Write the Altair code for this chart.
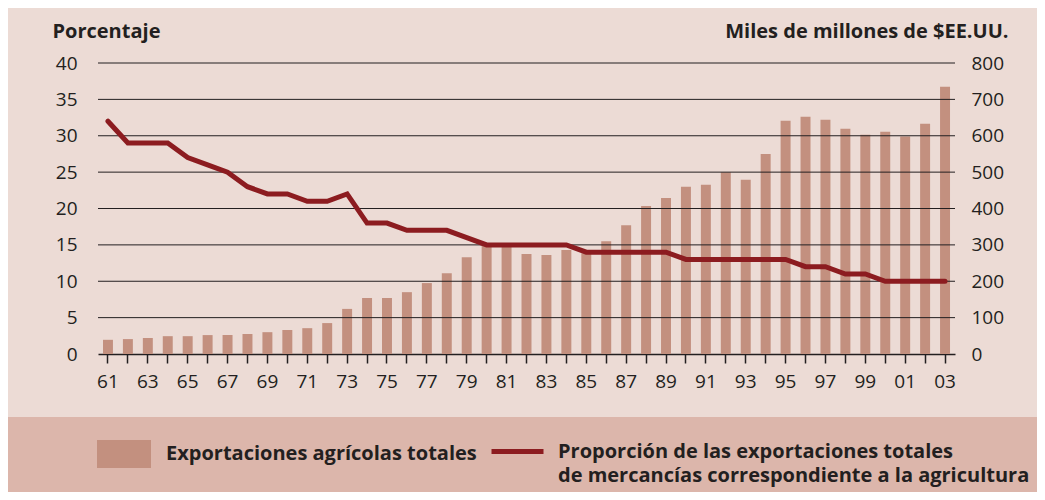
import altair as alt
import pandas as pd

# ---- data -------------------------------------------------------------
years = list(range(1961, 2004))
exports = [39, 41, 44, 49, 49, 52, 52, 55, 60, 66,
           71, 85, 124, 154, 154, 170, 195, 222, 266, 300,
           305, 275, 272, 286, 277, 310, 354, 407, 429, 460,
           465, 500, 479, 550, 641, 652, 644, 619, 603, 611,
           598, 633, 735]
share = [32, 29, 29, 29, 27, 26, 25, 23, 22, 22,
         21, 21, 22, 18, 18, 17, 17, 17, 16, 15,
         15, 15, 15, 15, 14, 14, 14, 14, 14, 13,
         13, 13, 13, 13, 13, 12, 12, 11, 11, 10,
         10, 10, 10]
grid_values = [5, 10, 15, 20, 25, 30, 35, 40]
left_ticks = [0, 5, 10, 15, 20, 25, 30, 35, 40]
right_ticks = [0, 100, 200, 300, 400, 500, 600, 700, 800]

bar_label = "Exportaciones agrícolas totales"
line_label_lines = ["Proporción de las exportaciones totales",
                    "de mercancías correspondiente a la agricultura"]
left_title = "Porcentaje"
right_title = "Miles de millones de $EE.UU."

# ---- style ------------------------------------------------------------
BG = "#ecdbd5"
BAND = "#dcb6ab"
BAR = "#c3907f"
LINE = "#8c1c20"
INK = "#231f20"
FONT = "Open Sans"

df = pd.DataFrame({"year": years, "exports": exports, "share": share})
df["bar_series"] = bar_label
df["line_series"] = "|".join(line_label_lines)

x_enc = alt.X(
    "year:O",
    scale=alt.Scale(paddingInner=0.5, paddingOuter=0.25),
    axis=alt.Axis(
        title=None, labelAngle=0,
        labelExpr="datum.value % 2 == 1 ? substring(toString(datum.value), 2) : ''",
        labelFont=FONT, labelFontSize=19, labelColor=INK, labelPadding=9,
        tickSize=9, tickColor=INK, tickWidth=1.5,
        domainColor=INK, domainWidth=1.5, grid=False,
    ),
)

left_axis = alt.Axis(
    orient="left", values=left_ticks, grid=False, domain=False, ticks=False,
    labelPadding=21, labelFont=FONT, labelFontSize=19, labelColor=INK,
    title=left_title, titleAngle=0, titleAlign="left", titleBaseline="alphabetic",
    titleX=-46, titleY=-26, titleFont=FONT, titleFontSize=20,
    titleFontWeight="bold", titleColor=INK,
)

right_axis = alt.Axis(
    orient="right", values=right_ticks, grid=False, domain=False, ticks=False,
    labelPadding=16, labelFont=FONT, labelFontSize=19, labelColor=INK,
    title=right_title, titleAngle=0, titleAlign="right", titleBaseline="alphabetic",
    titleX=53, titleY=-26, titleFont=FONT, titleFontSize=20,
    titleFontWeight="bold", titleColor=INK,
)

band = alt.Chart(pd.DataFrame({"k": [0]})).mark_rect(color=BAND).encode(
    x=alt.value(-90), x2=alt.value(939), y=alt.value(354), y2=alt.value(440)
)

bars = alt.Chart(df).mark_bar().encode(
    x=x_enc,
    y=alt.Y("exports:Q", scale=alt.Scale(domain=[0, 800], nice=False), axis=right_axis),
    fill=alt.Fill(
        "bar_series:N",
        scale=alt.Scale(domain=[bar_label], range=[BAR]),
        legend=alt.Legend(
            orient="none", legendX=-1, legendY=364, title=None, padding=0,
            symbolType="M-1,-0.52H1V0.52H-1Z", symbolSize=2916,
            symbolStrokeWidth=0, symbolOpacity=1,
            labelOffset=15, labelFont=FONT, labelFontSize=20,
            labelFontWeight="bold", labelColor=INK, labelLimit=1000,
        ),
    ),
)

grid = alt.Chart(pd.DataFrame({"g": grid_values})).mark_rule(
    color=INK, strokeWidth=1
).encode(y=alt.Y("g:Q", scale=alt.Scale(domain=[0, 40], nice=False), axis=left_axis))

line = alt.Chart(df).mark_line(strokeWidth=5, strokeCap="round", strokeJoin="miter").encode(
    x=x_enc,
    y=alt.Y("share:Q", scale=alt.Scale(domain=[0, 40], nice=False), axis=left_axis),
    stroke=alt.Stroke(
        "line_series:N",
        scale=alt.Scale(domain=["|".join(line_label_lines)], range=[LINE]),
        legend=alt.Legend(
            orient="none", legendX=391, legendY=360, title=None, padding=0,
            symbolType="stroke", symbolSize=2704,
            symbolStrokeWidth=5, symbolOpacity=1,
            labelOffset=12, labelFont=FONT, labelFontSize=20,
            labelFontWeight="bold", labelColor=INK, labelLimit=1000,
            labelExpr="split(datum.label, '|')",
        ),
    ),
)

chart = alt.layer(band, bars, alt.layer(grid, line)).resolve_scale(
    y="independent"
).properties(
    width=857, height=291,
    padding={"left": 90, "top": 55, "right": 82, "bottom": 138},
    autosize=alt.AutoSizeParams(type="none"),
    background=BG,
).configure(
    style={"guide-label": {"lineHeight": 24}}
).configure_view(stroke=None)

chart.save("out.html", embed_options={"renderer": "svg", "actions": False})
